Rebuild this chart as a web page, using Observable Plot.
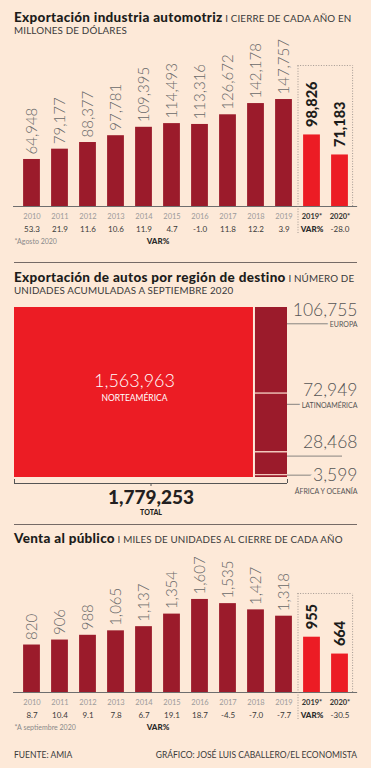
<!DOCTYPE html>
<html><head><meta charset="utf-8">
<script src="https://cdn.jsdelivr.net/npm/d3@7"></script>
<script src="https://cdn.jsdelivr.net/npm/@observablehq/plot@0.6"></script>
<style>
html,body{margin:0;padding:0;background:#fde9d8;}
#page{position:relative;width:371px;height:768px;overflow:hidden;background:#fde9d8;font-family:Lato,"Noto Sans",sans-serif;color:#231f20;}
.title{position:absolute;left:14px;white-space:nowrap;font-size:9.8px;line-height:12px;color:#3a3a3a;font-weight:400;letter-spacing:0.15px;}
.title b{font-weight:900;font-size:13.5px;color:#1d1d1b;letter-spacing:0.3px;}
.sep{position:absolute;left:14px;width:343px;height:1px;background:#756a66;}
.foot{position:absolute;font-size:8.5px;line-height:10px;color:#3a3a3a;white-space:nowrap;}
#page svg{position:absolute;left:0;overflow:visible;background:transparent;}
</style></head>
<body><div id="page">
<div class="title" style="top:11px"><b>Exportación industria automotriz</b> I CIERRE DE CADA AÑO EN<br>MILLONES DE DÓLARES</div>
<div class="sep" style="top:262px"></div>
<div class="title" style="top:271px"><b>Exportación de autos por región de destino</b> I NÚMERO DE<br>UNIDADES ACUMULADAS A SEPTIEMBRE 2020</div>
<div class="sep" style="top:524px"></div>
<div class="title" style="top:532px"><b>Venta al público</b> I MILES DE UNIDADES AL CIERRE DE CADA AÑO</div>
<div class="foot" style="left:14px;top:750px">FUENTE: AMIA</div>
<div class="foot" style="right:14px;top:750px">GRÁFICO: JOSÉ LUIS CABALLERO/EL ECONOMISTA</div>
</div>
<script>
// ---- data ----
const years = ["2010","2011","2012","2013","2014","2015","2016","2017","2018","2019","2019*","2020*"];
const exportValues = [64948,79177,88377,97781,109395,114493,113316,126672,142178,147757,98826,71183];
const exportVar = [53.3,21.9,11.6,10.6,11.9,4.7,-1.0,11.8,12.2,3.9,null,-28.0];
const salesValues = [820,906,988,1065,1137,1354,1607,1535,1427,1318,955,664];
const salesVar = [8.7,10.4,9.1,7.8,6.7,19.1,18.7,-4.5,-7.0,-7.7,null,-30.5];
const regions = ["NORTEAMÉRICA","EUROPA","LATINOAMÉRICA","","ÁFRICA Y OCEANÍA"];
const regionUnits = [1563963,106755,72949,28468,3599];
const totalUnits = 1779253;

// ---- style ----
const BG = "#fde9d8", DARK = "#9b1b2b", RED = "#ec1c24";
const FONT = "Lato, 'Noto Sans', sans-serif";
const fmt = d3.format(",");
const page = document.getElementById("page");

function barChart({values, vars, ppu, top, height, boxTop, note}) {
  const data = years.map((label, i) => ({i, label, value: values[i], v: vars[i], hi: label.endsWith("*")}));
  const reg = data.filter(d => !d.hi), hi = data.filter(d => d.hi);
  const base = height - 44;
  const D = d3.max(values) * 1.4;
  const u = 1 / ppu;
  const dot = {stroke: "#8c8480", strokeWidth: 0.8, strokeDasharray: "1,1.6"};
  const svg = Plot.plot({
    width: 371, height, margin: 0,
    x: {domain: [-0.5, 11.5], range: [17.5, 353.5], axis: null},
    y: {domain: [0, D], range: [base, base - D * ppu], axis: null},
    style: {background: "transparent", fontFamily: FONT},
    marks: [
      Plot.rect(data, {x1: d => d.i - 0.3, x2: d => d.i + 0.3, y1: 0, y2: "value", fill: d => d.hi ? RED : DARK}),
      Plot.ruleY([0], {x1: -0.66, x2: 11.63, stroke: "#6e6e6e", strokeWidth: 1}),
      Plot.text(reg, {x: "i", y: "value", text: d => fmt(d.value), rotate: -90, textAnchor: "start", dy: -5, fontSize: 15, fontWeight: 300, fill: "#6a6a6a"}),
      Plot.text(hi, {x: "i", y: "value", text: d => fmt(d.value), rotate: -90, textAnchor: "start", dy: -8, fontSize: 14.5, fontWeight: 900, fill: "#1d1d1b"}),
      Plot.text(reg, {x: "i", y: 0, text: "label", dy: 12, lineAnchor: "bottom", fontSize: 7.5, fill: "#9a9a9a"}),
      Plot.text(hi, {x: "i", y: 0, text: "label", dy: 12, lineAnchor: "bottom", fontSize: 7.5, fontWeight: 700, fill: "#333"}),
      Plot.text(data.filter(d => d.v != null), {x: "i", y: 0, text: d => d.v.toFixed(1), dy: 25, lineAnchor: "bottom", fontSize: 8, fill: "#3a3a3a"}),
      Plot.text(data.filter(d => d.v == null), {x: "i", y: 0, text: () => "VAR%", dy: 25, lineAnchor: "bottom", fontSize: 8, fontWeight: 900, fill: "#2a2a2a"}),
      Plot.text([note], {x: -0.625, y: 0, text: d => d, textAnchor: "start", dy: 37, lineAnchor: "bottom", fontSize: 7, fill: "#8a8a8a"}),
      Plot.text(["VAR%"], {x: 4.5, y: 0, text: d => d, dy: 37, lineAnchor: "bottom", fontSize: 8, fontWeight: 900, fill: "#2a2a2a"}),
      Plot.ruleX([9.5], {y1: -27 * u, y2: boxTop, ...dot}),
      Plot.ruleX([11.45], {y1: 0, y2: boxTop, ...dot}),
      Plot.ruleY([boxTop], {x1: 9.5, x2: 11.45, ...dot})
    ]
  });
  svg.style.top = top + "px";
  page.appendChild(svg);
}

barChart({values: exportValues, vars: exportVar, ppu: 0.000724, top: 40, height: 210, boxTop: 194750, note: "*Agosto 2020"});
barChart({values: salesValues, vars: salesVar, ppu: 0.0579, top: 555, height: 181, boxTop: 1710, note: "*A septiembre 2020"});

// ---- treemap section ----
(function () {
  const naUnits = regionUnits[0];
  const colUnits = d3.sum(regionUnits.slice(1));
  let cum = 0;
  const cells = regions.slice(1).map((name, j) => {
    const v = regionUnits[j + 1];
    const c = {name, value: v, y1: cum, y2: cum + v};
    cum += v;
    return c;
  });
  const last = cells[cells.length - 1];
  const main = cells.filter(c => c !== last);
  const ku = colUnits / 170;       // units per px (vertical)
  const kx = totalUnits / 273;     // units per px (horizontal)
  const lineY = d => d.y1 + 0.19 * d.value;
  const right = totalUnits + 70 * kx;
  const grey = "#555";
  const svg = Plot.plot({
    width: 371, height: 220, margin: 0,
    x: {domain: [0, totalUnits], range: [14, 287], axis: null},
    y: {domain: [0, colUnits], range: [7, 177], axis: null},
    style: {background: "transparent", fontFamily: FONT},
    marks: [
      Plot.rect([naUnits], {x1: 0, x2: d => d, y1: 0, y2: colUnits, fill: RED, insetRight: 1}),
      Plot.rect(cells, {x1: naUnits, x2: totalUnits, y1: "y1", y2: "y2", fill: DARK, insetLeft: 1}),
      Plot.ruleY(cells.slice(1), {y: "y1", x1: naUnits, x2: totalUnits, stroke: "#f2c8bc", strokeWidth: 1.3, insetLeft: 1}),
      Plot.ruleY(cells, {y: lineY, x1: totalUnits, x2: d => d.name ? right : right - 15 * kx, stroke: "#6a6a6a", strokeWidth: 0.8}),
      Plot.text(main, {x: right, y: lineY, text: d => fmt(d.value), textAnchor: "end", lineAnchor: "bottom", dy: -8, fontSize: 17.5, fontWeight: 300, fill: grey}),
      Plot.text(main.filter(d => d.name), {x: right, y: lineY, text: "name", textAnchor: "end", lineAnchor: "middle", dy: 1, fontSize: 7, fill: grey, stroke: BG, strokeWidth: 5, paintOrder: "stroke"}),
      Plot.text([last], {x: right, y: lineY, text: d => fmt(d.value), textAnchor: "end", lineAnchor: "middle", fontSize: 17.5, fontWeight: 300, fill: grey, stroke: BG, strokeWidth: 8, paintOrder: "stroke"}),
      Plot.text([last], {x: right, y: lineY, text: "name", textAnchor: "end", lineAnchor: "bottom", dy: 19, fontSize: 7, fill: grey}),
      Plot.text([naUnits], {x: naUnits / 2, y: colUnits / 2, text: d => fmt(d), lineAnchor: "bottom", dy: -6, fontSize: 18, fontWeight: 300, fill: "white"}),
      Plot.text([regions[0]], {x: naUnits / 2, y: colUnits / 2, text: d => d, lineAnchor: "bottom", dy: 8, fontSize: 8.5, fill: "white"}),
      Plot.ruleY([colUnits + 6 * ku], {x1: 0, x2: totalUnits, stroke: grey, strokeWidth: 1}),
      Plot.ruleX([0, totalUnits], {y1: colUnits + 2 * ku, y2: colUnits + 6 * ku, stroke: grey, strokeWidth: 1}),
      Plot.ruleX([totalUnits / 2], {y1: colUnits + 6 * ku, y2: colUnits + 9 * ku, stroke: grey, strokeWidth: 1}),
      Plot.text([totalUnits], {x: totalUnits / 2, y: colUnits + 26 * ku, text: d => fmt(d), lineAnchor: "bottom", fontSize: 19, fontWeight: 900, fill: "#231f20"}),
      Plot.text(["TOTAL"], {x: totalUnits / 2, y: colUnits + 37 * ku, text: d => d, lineAnchor: "bottom", fontSize: 7, fontWeight: 900, fill: "#231f20"})
    ]
  });
  svg.style.top = "300px";
  page.appendChild(svg);
})();
</script>
</body></html>
